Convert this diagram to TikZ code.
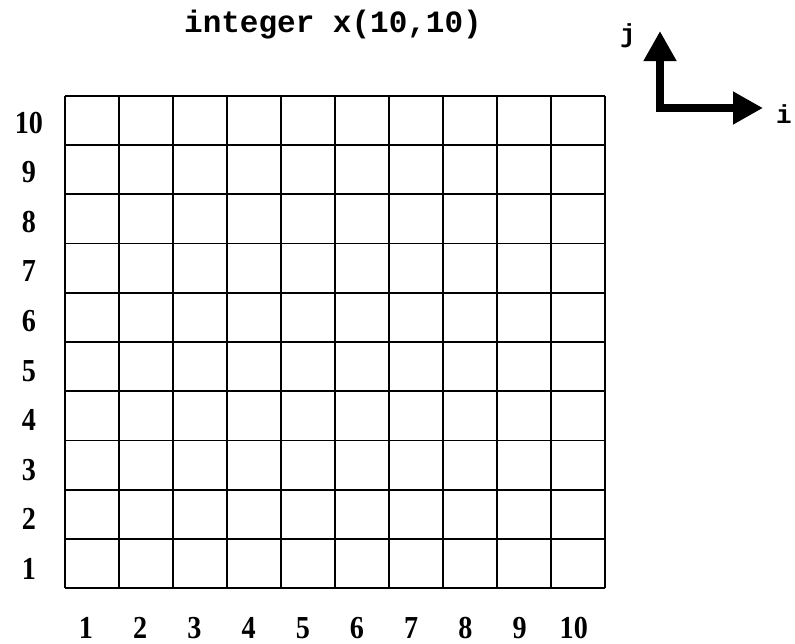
\documentclass[tikz,border=0pt]{standalone}
\usepackage{fontspec}
\setmainfont{Liberation Serif}
\newfontfamily\codefont{Liberation Mono}
\usetikzlibrary{arrows.meta}
\tikzset{
  gridline/.style={line width=1.8pt, black},
  numlbl/.style={font=\fontsize{32}{32}\selectfont\bfseries, inner sep=0pt, anchor=base, xscale=0.88},
  codelbl/.style={font=\codefont\fontsize{31}{31}\selectfont\bfseries, inner sep=0pt},
  axislbl/.style={font=\codefont\fontsize{26}{26}\selectfont\bfseries, inner sep=0pt},
  axisarrow/.style={line width=8pt, line join=miter, {Triangle[width=31pt,length=30pt]}-{Triangle[width=31pt,length=30pt]}}
}
\begin{document}
\begin{tikzpicture}[x=1pt,y=-1pt]
\useasboundingbox (0,0) rectangle (795,643);
% title
\node[codelbl, anchor=base] (title) at (333,32) {integer x(10,10)};
% grid
\foreach \k in {0,...,10} {
  \draw[gridline] ({65+54*\k},95.7) -- ({65+54*\k},588.3);
  \draw[gridline] (65,{95.7+49.26*\k}) -- (605,{95.7+49.26*\k});
}
% row labels
\foreach \r in {1,...,10} {
  \node[numlbl] (row\r) at (29,{133+(10-\r)*49.6}) {\r};
}
% column labels
\foreach \c in {1,...,10} {
  \node[numlbl] (col\c) at ({86+(\c-1)*54.2},638) {\c};
}
% axes
\coordinate (jtip) at (660,31);
\coordinate (corner) at (660,108);
\coordinate (itip) at (763,108);
\draw[axisarrow] (jtip) -- (corner) -- (itip);
\node[axislbl] (jl) at (628,36) {j};
\node[axislbl] (il) at (784,114) {i};
\end{tikzpicture}
\end{document}
